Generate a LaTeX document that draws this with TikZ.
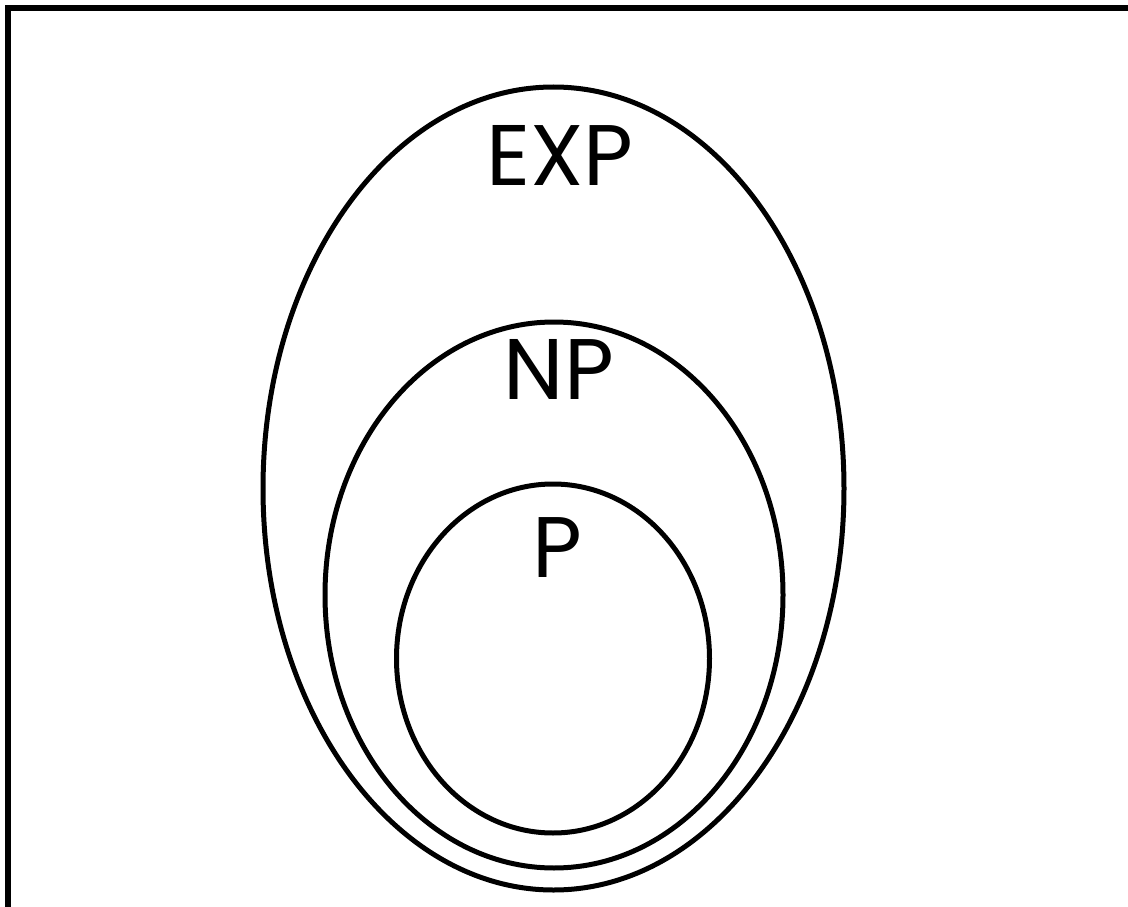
\documentclass[tikz,border=0pt]{standalone}
\usepackage{fontspec}
\setmainfont{Poppins}
\usepackage{tikz}
\usetikzlibrary{
  positioning,
  shapes.geometric
}
\definecolor{setink}{RGB}{0,0,0}
\tikzset{
  frameline/.style={draw=setink,line width=5.6pt},
  classset/.style={draw=setink,line width=5pt,ellipse,inner sep=0pt},
  classlab/.style={font=\fontsize{86}{86}\selectfont,text=setink,
    anchor=base,inner sep=0pt}
}

\begin{document}
\begin{tikzpicture}[x=1pt,y=-1pt]
  \useasboundingbox (0,0) rectangle (1128,907);
  \draw[frameline] (7.8,910) |- (1131,7.8);
  \node[classset,minimum width=581pt,minimum height=803pt] (exp) at (553.5,488.5) {};
  \node[classset,minimum width=458pt,minimum height=546pt] (np) at (554,595) {};
  \node[classset,minimum width=313pt,minimum height=349pt] (p) at (553,658.5) {};
  \node[classlab] (explab) at (560,185) {EXP};
  \node[classlab] (nplab) at (559,399) {NP};
  \node[classlab] (plab) at (557,577) {P};
\end{tikzpicture}
\end{document}
